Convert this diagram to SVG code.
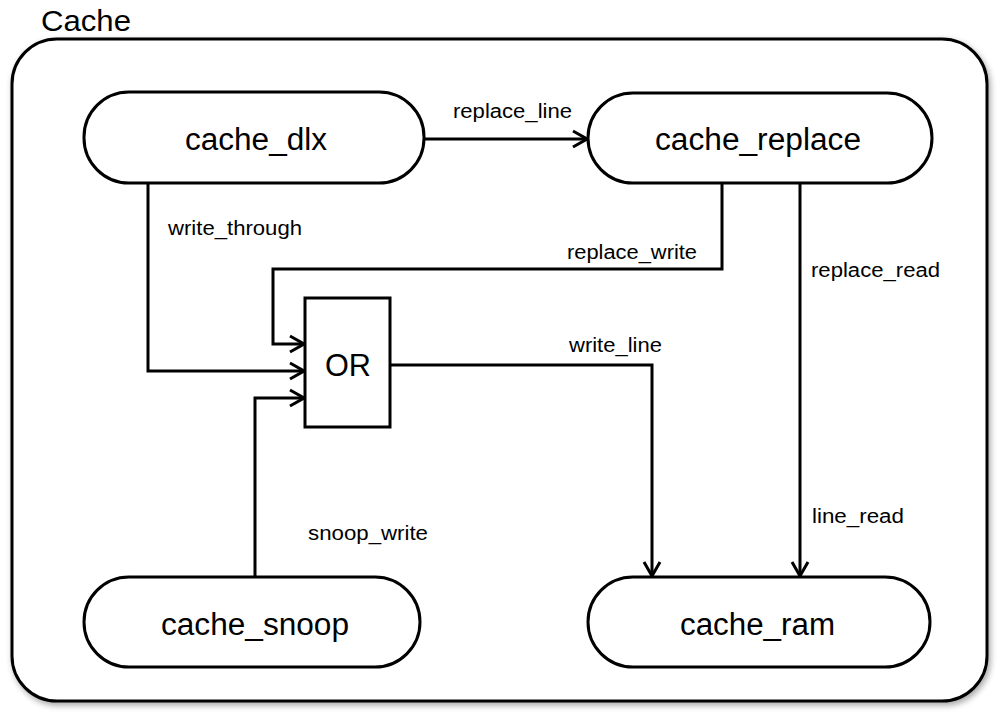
<svg xmlns="http://www.w3.org/2000/svg" width="999" height="727" viewBox="0 0 999 727">
<style>
.node{fill:#fff;stroke:#000;stroke-width:3}
.big{font-family:"Liberation Sans",Arial,sans-serif;font-size:31px;fill:#000}
.lbl{font-family:"Liberation Sans",Arial,sans-serif;font-size:20px;fill:#000}
.edge{fill:none;stroke:#000;stroke-width:3;stroke-linejoin:miter}
</style>
<defs>
<marker id="arr" viewBox="0 0 16 20" refX="15" refY="10" markerWidth="16" markerHeight="20" markerUnits="userSpaceOnUse" orient="auto">
<path d="M1,2 L15,10 L1,18" fill="none" stroke="#000" stroke-width="3"/>
</marker>
<filter id="sh" x="-5%" y="-5%" width="110%" height="110%">
<feGaussianBlur in="SourceAlpha" stdDeviation="3"/>
<feOffset dx="2" dy="3"/>
<feComponentTransfer><feFuncA type="linear" slope="0.35"/></feComponentTransfer>
<feMerge><feMergeNode/><feMergeNode in="SourceGraphic"/></feMerge>
</filter>
</defs>
<rect width="999" height="727" fill="#fff"/>
<g id="Cache">
<rect x="12" y="39" width="975" height="662" rx="45" ry="45" class="node" filter="url(#sh)"/>
<text x="41" y="31" class="big" textLength="90" lengthAdjust="spacingAndGlyphs" style="font-size:29px">Cache</text>
</g>
<g id="cache_dlx">
<rect x="84" y="92" width="340" height="91" rx="45" ry="45" class="node"/>
<text x="185" y="150" class="big" textLength="142" lengthAdjust="spacingAndGlyphs">cache_dlx</text>
</g>
<g id="cache_replace">
<rect x="588" y="93" width="344" height="90" rx="45" ry="45" class="node"/>
<text x="655" y="150" class="big" textLength="206" lengthAdjust="spacingAndGlyphs">cache_replace</text>
</g>
<g id="OR">
<rect x="305" y="298" width="85" height="129" class="node"/>
<text x="325" y="376" class="big" textLength="46" lengthAdjust="spacingAndGlyphs">OR</text>
</g>
<g id="cache_snoop">
<rect x="84" y="577" width="336" height="90" rx="45" ry="45" class="node"/>
<text x="161" y="635" class="big" textLength="188" lengthAdjust="spacingAndGlyphs">cache_snoop</text>
</g>
<g id="cache_ram">
<rect x="588" y="577" width="342" height="90" rx="45" ry="45" class="node"/>
<text x="680" y="635" class="big" textLength="155" lengthAdjust="spacingAndGlyphs">cache_ram</text>
</g>
<g id="connectors">
<path d="M424,139 H587" class="edge" marker-end="url(#arr)"/>
<text x="453" y="118" class="lbl" textLength="119" lengthAdjust="spacingAndGlyphs">replace_line</text>
<path d="M148,183 V371 H304" class="edge" marker-end="url(#arr)"/>
<text x="168" y="235" class="lbl" textLength="134" lengthAdjust="spacingAndGlyphs">write_through</text>
<path d="M722,183 V269 H273 V344 H304" class="edge" marker-end="url(#arr)"/>
<text x="567" y="259" class="lbl" textLength="130" lengthAdjust="spacingAndGlyphs">replace_write</text>
<path d="M255,577 V398 H304" class="edge" marker-end="url(#arr)"/>
<text x="308" y="540" class="lbl" textLength="120" lengthAdjust="spacingAndGlyphs">snoop_write</text>
<path d="M390,365 H652 V576" class="edge" marker-end="url(#arr)"/>
<text x="569" y="352" class="lbl" textLength="93" lengthAdjust="spacingAndGlyphs">write_line</text>
<path d="M800,183 V576" class="edge" marker-end="url(#arr)"/>
<text x="811" y="277" class="lbl" textLength="129" lengthAdjust="spacingAndGlyphs">replace_read</text>
<text x="812" y="523" class="lbl" textLength="92" lengthAdjust="spacingAndGlyphs">line_read</text>
</g>
</svg>
